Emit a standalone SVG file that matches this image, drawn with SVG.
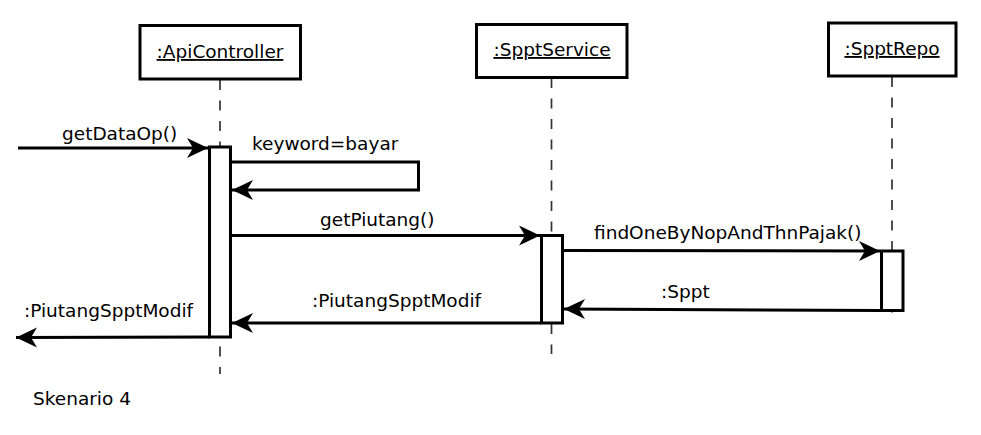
<svg xmlns="http://www.w3.org/2000/svg" width="981" height="435" viewBox="0 0 981 435">
<defs>
<marker id="arr" markerUnits="userSpaceOnUse" markerWidth="24" markerHeight="24" viewBox="-22 -11 24 22" refX="0" refY="0" orient="auto" overflow="visible">
<path d="M0,0 L-21,-10 L-15,0 L-21,10 Z" fill="#000"/>
</marker>
<style>
text{font-family:"DejaVu Sans","Liberation Sans",sans-serif;font-size:18.5px;fill:#000}
.hdr{fill:#fff;stroke:#000;stroke-width:3}
.ul{text-decoration:underline}
.life{stroke:#333;stroke-width:1.7;stroke-dasharray:10 10.5;fill:none}
.bar{fill:#fff;stroke:#000;stroke-width:3}
.msg{stroke:#000;stroke-width:3;fill:none;marker-end:url(#arr)}
</style>
</defs>
<rect width="981" height="435" fill="#fff"/>
<g id="lifelines">
<line class="life" x1="220" y1="80" x2="220" y2="374"/>
<line class="life" x1="551.5" y1="78" x2="551.5" y2="354"/>
<line class="life" x1="892" y1="77" x2="892" y2="323"/>
</g>
<g id="ApiController">
<rect class="hdr" x="140" y="25.5" width="160.5" height="53.5"/>
<text class="ul" x="220" y="58" text-anchor="middle">:ApiController</text>
<rect class="bar" x="209.5" y="147" width="21" height="190"/>
</g>
<g id="SpptService">
<rect class="hdr" x="476.5" y="24.5" width="150.5" height="53"/>
<text class="ul" x="552" y="56" text-anchor="middle">:SpptService</text>
<rect class="bar" x="541.5" y="235.5" width="21" height="87.5"/>
</g>
<g id="SpptRepo">
<rect class="hdr" x="828.5" y="23" width="127.5" height="53"/>
<text class="ul" x="892" y="55" text-anchor="middle">:SpptRepo</text>
<rect class="bar" x="881.5" y="251" width="21.5" height="59.5"/>
</g>
<g id="connectors">
<line class="msg" x1="18" y1="148" x2="208" y2="148"/>
<polyline class="msg" points="231,162 418.5,162 418.5,190 232,190"/>
<line class="msg" x1="231" y1="235.5" x2="540" y2="235.5"/>
<line class="msg" x1="563" y1="250.5" x2="880" y2="251"/>
<line class="msg" x1="881" y1="310.5" x2="564" y2="309"/>
<line class="msg" x1="541" y1="323" x2="232" y2="323"/>
<line class="msg" x1="209" y1="337" x2="16" y2="337.5"/>
</g>
<g id="labels">
<text x="62" y="140">getDataOp()</text>
<text x="252" y="150">keyword=bayar</text>
<text x="320" y="226">getPiutang()</text>
<text x="594" y="239">findOneByNopAndThnPajak()</text>
<text x="661" y="298">:Sppt</text>
<text x="312" y="307">:PiutangSpptModif</text>
<text x="24" y="317">:PiutangSpptModif</text>
<text x="33" y="405">Skenario 4</text>
</g>
</svg>
